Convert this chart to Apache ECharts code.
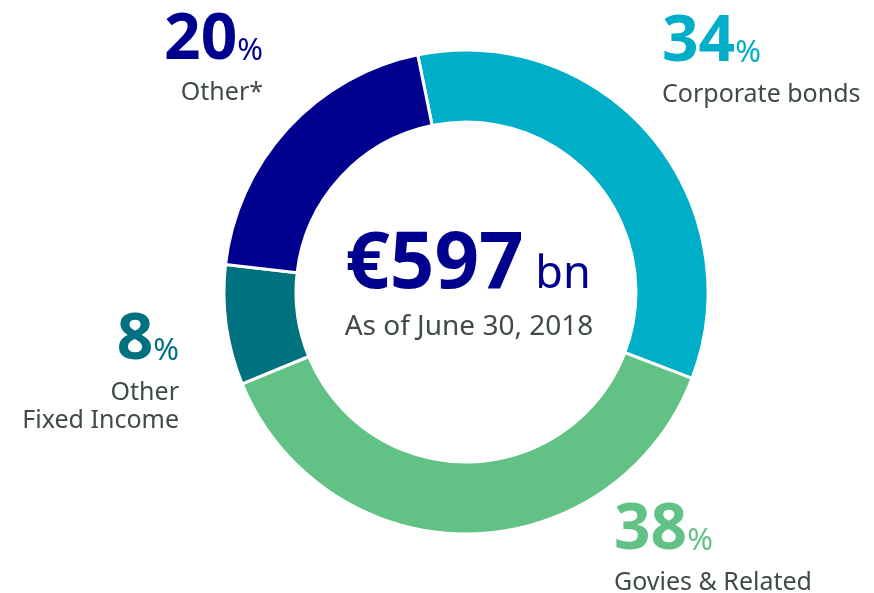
<!DOCTYPE html>
<html>
<head>
<meta charset="utf-8">
<script src="https://cdn.jsdelivr.net/npm/echarts@6/dist/echarts.min.js"></script>
<style>
  html, body { margin: 0; padding: 0; background: #fff; }
  #main { width: 874px; height: 593px; }
</style>
</head>
<body>
<div id="main"></div>
<script>
// data
var categories = ['Corporate bonds', 'Govies & Related', 'Other\nFixed Income', 'Other*'];
var shares = [34, 38, 8, 20];
var colors = ['#00AFC7', '#62C286', '#00717E', '#00008F'];
var totalText = '€597';
var unitText = 'bn';
var dateText = 'As of June 30, 2018';

// label anchors (x, y, align) per slice
var labelPos = [
  { x: 662, y: 13, align: 'left' },
  { x: 614, y: 501, align: 'left' },
  { x: 179, y: 311, align: 'right' },
  { x: 263, y: 11, align: 'right' }
];

var grey = '#404A4A';
var font = '"Noto Sans", "Open Sans", sans-serif';

var myChart = echarts.init(document.getElementById('main'));

var data = categories.map(function (c, i) {
  var al = labelPos[i].align;
  var rich = {
    num: { fontSize: 64, fontWeight: 'bold', color: colors[i], fontFamily: font, lineHeight: 62, verticalAlign: 'bottom', align: al },
    pct: { fontSize: 31, color: colors[i], fontFamily: font, lineHeight: 62, verticalAlign: 'bottom', padding: [0, 0, 6, 0], align: al },
    gap: { fontSize: 4, lineHeight: 6, align: al },
    name: { fontSize: 25, color: grey, fontFamily: font, lineHeight: 28, align: al }
  };
  return {
    name: c,
    value: shares[i],
    itemStyle: { color: colors[i] },
    label: { rich: rich }
  };
});

var option = {
  animation: false,
  series: [{
    type: 'pie',
    center: [466, 292],
    radius: [170, 242],
    startAngle: 101.5,
    clockwise: true,
    itemStyle: { borderColor: '#fff', borderWidth: 3 },
    label: {
      show: true,
      position: 'outside',
      overflow: 'none',
      formatter: function (p) {
        var lines = p.name.split('\n').map(function (s) { return '{name|' + s + '}'; });
        return '{num|' + p.value + '}{pct|%}\n{gap| }\n' + lines.join('\n');
      }
    },
    labelLine: { show: false },
    labelLayout: function (params) {
      var pos = labelPos[params.dataIndex];
      return { x: pos.x, y: pos.y, align: pos.align, verticalAlign: 'top', hideOverlap: false };
    },
    emphasis: { disabled: true },
    data: data
  }],
  graphic: [{
    type: 'text',
    x: 468,
    y: 265,
    style: {
      text: '{big|' + totalText + '}{unit| ' + unitText + '}',
      align: 'center',
      verticalAlign: 'middle',
      rich: {
        big: { fontSize: 78, fontWeight: 'bold', fill: '#00008F', fontFamily: font, lineHeight: 80, verticalAlign: 'bottom' },
        unit: { fontSize: 45, fill: '#00008F', fontFamily: font, lineHeight: 80, verticalAlign: 'bottom', padding: [0, 0, 7, 0] }
      }
    }
  }, {
    type: 'text',
    x: 469,
    y: 327,
    style: {
      text: dateText,
      align: 'center',
      verticalAlign: 'middle',
      fontSize: 28,
      fill: grey,
      fontFamily: font
    }
  }]
};

myChart.setOption(option);
</script>
</body>
</html>
